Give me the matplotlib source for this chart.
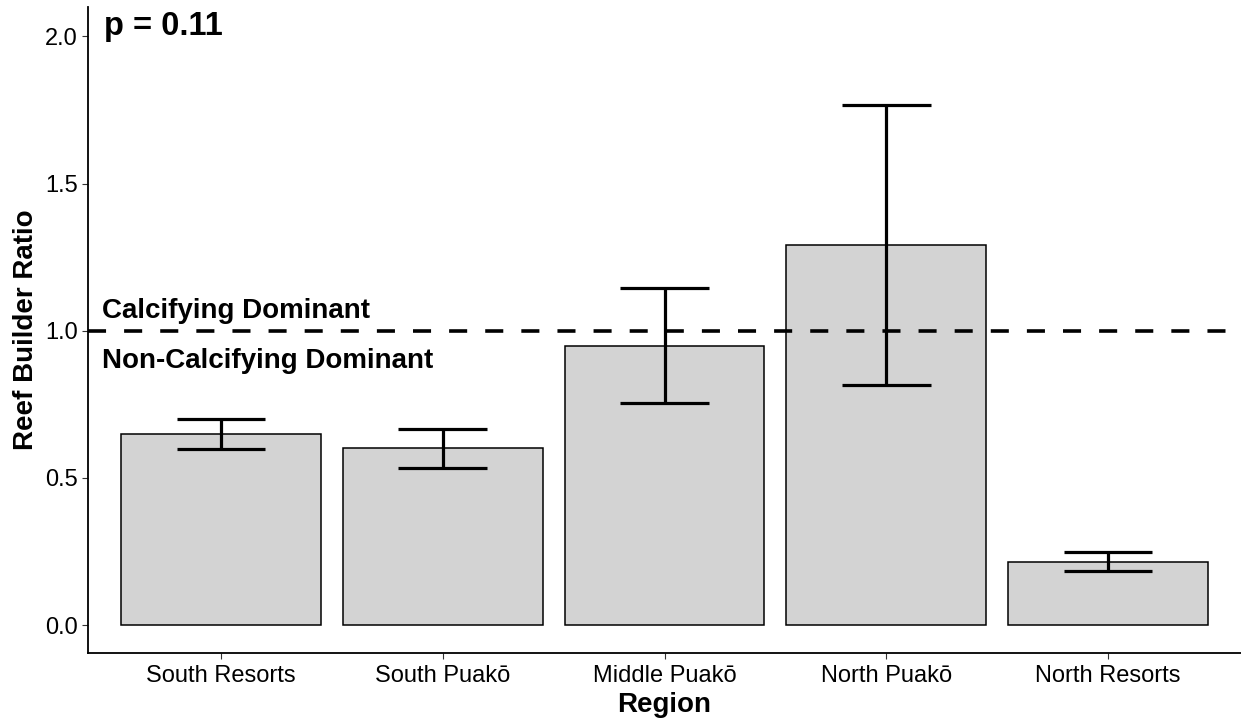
import matplotlib.pyplot as plt
import numpy as np

plt.rcParams['font.family'] = ['Liberation Sans', 'DejaVu Sans']

# data
regions = ['South Resorts', 'South Puakō', 'Middle Puakō', 'North Puakō', 'North Resorts']
ratio_mean = [0.650, 0.600, 0.949, 1.291, 0.215]
ratio_low = [0.599, 0.534, 0.755, 0.816, 0.184]
ratio_high = [0.701, 0.667, 1.146, 1.767, 0.248]
p_label = 'p = 0.11'

fig = plt.figure(figsize=(12.41, 7.21), dpi=100)
ax = fig.add_axes([88 / 1241, 68 / 721, 1 - 88 / 1241, (653 - 7) / 721])

x = np.arange(len(regions))
ax.bar(x, ratio_mean, width=0.9, color='#D3D3D3', edgecolor='black', linewidth=1.1, zorder=2)

# error bars (ggplot style: vertical line + caps)
ax.vlines(x, ratio_low, ratio_high, color='black', linewidth=2.3, zorder=3)
ax.hlines(ratio_low, x - 0.2, x + 0.2, color='black', linewidth=2.3, zorder=3)
ax.hlines(ratio_high, x - 0.2, x + 0.2, color='black', linewidth=2.3, zorder=3)

ax.axhline(1.0, color='black', linewidth=2.6, linestyle=(0, (5, 5)), zorder=4)

ax.text(-0.53, 2.033, p_label, fontsize=23.5, fontweight='bold', va='center', ha='left')
ax.text(-0.535, 1.066, 'Calcifying Dominant', fontsize=20, fontweight='bold', va='center', ha='left')
ax.text(-0.535, 0.896, 'Non-Calcifying Dominant', fontsize=20, fontweight='bold', va='center', ha='left')

ax.set_xlim(-0.6, 4.6)
ax.set_ylim(-0.095, 2.10)
ax.set_xticks(x)
ax.set_xticklabels(regions)
ax.set_yticks([0.0, 0.5, 1.0, 1.5, 2.0])
ax.set_yticklabels(['0.0', '0.5', '1.0', '1.5', '2.0'])
ax.tick_params(labelsize=17, length=4, width=0.8, colors='#333333', labelcolor='black')
ax.tick_params(axis='x', pad=5)

ax.set_xlabel('Region', fontsize=20, fontweight='bold', labelpad=3)
ax.set_ylabel('Reef Builder Ratio', fontsize=20, fontweight='bold', labelpad=4)

for side in ['top', 'right']:
    ax.spines[side].set_visible(False)
for side in ['left', 'bottom']:
    ax.spines[side].set_linewidth(1.3)

fig.savefig('out.png', dpi=100)
